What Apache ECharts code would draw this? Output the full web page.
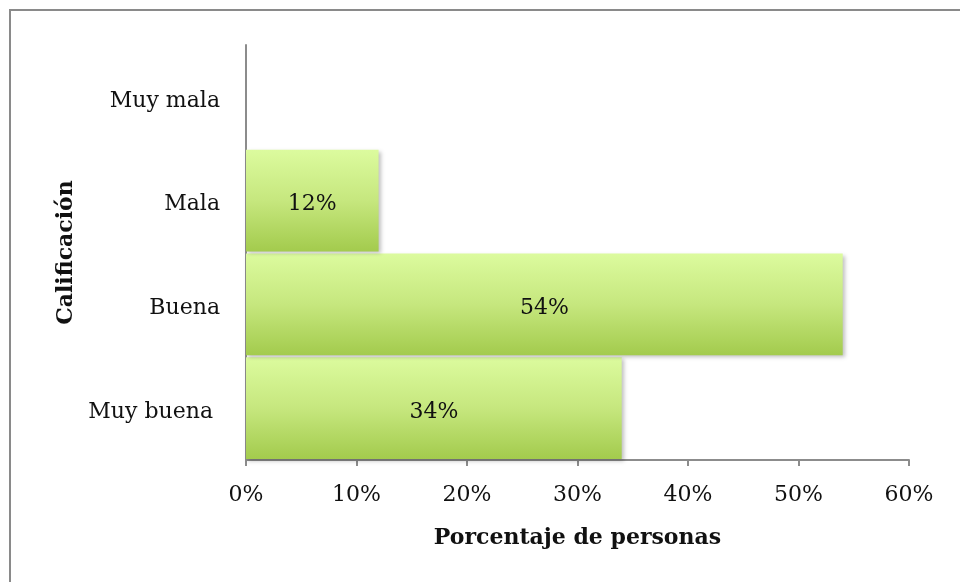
<!DOCTYPE html>
<html>
<head>
<meta charset="utf-8">
<script src="https://cdn.jsdelivr.net/npm/echarts@6/dist/echarts.min.js"></script>
<style>
  html, body { margin: 0; padding: 0; background: #fff; }
  #frame { position: absolute; left: 9px; top: 9px; width: 960px; height: 580px; border: 2px solid #8a8a8a; box-sizing: border-box; }
  #chart { position: absolute; left: 0; top: 0; width: 960px; height: 582px; }
</style>
</head>
<body>
<div id="frame"></div>
<div id="chart"></div>
<script>
// Ratings, listed bottom to top
const categories = ['Muy buena ', 'Buena', 'Mala', 'Muy mala'];
const percentValues = [34, 54, 12, null];
const tickLabels = ['0%', '10%', '20%', '30%', '40%', '50%', '60%'];

const serif = '"DejaVu Serif", "Liberation Serif", serif';

const chart = echarts.init(document.getElementById('chart'), null, { renderer: 'canvas' });
chart.setOption({
  animation: false,
  grid: { left: 246, right: 51, top: 45, bottom: 122 },
  xAxis: {
    type: 'value',
    min: 0, max: 60, interval: 10,
    name: 'Porcentaje de personas',
    nameLocation: 'middle',
    nameGap: 67,
    nameTextStyle: { fontFamily: serif, fontWeight: 'bold', fontSize: 22, color: '#111' },
    axisLine: { show: true, lineStyle: { color: '#8c8c8c', width: 2 } },
    axisTick: { show: true, length: 6, lineStyle: { color: '#8c8c8c', width: 2 } },
    splitLine: { show: false },
    axisLabel: {
      fontFamily: serif, fontSize: 22, color: '#111', margin: 24,
      formatter: v => tickLabels[Math.round(v / 10)]
    }
  },
  yAxis: {
    type: 'category',
    data: categories,
    name: 'Calificación',
    nameLocation: 'middle',
    nameGap: 167,
    nameRotate: 90,
    nameTextStyle: { fontFamily: serif, fontWeight: 'bold', fontSize: 22, color: '#111' },
    axisLine: { show: true, lineStyle: { color: '#8c8c8c', width: 2 } },
    axisTick: { show: false },
    axisLabel: {
      margin: 26,
      formatter: v => '{c|' + v + '}',
      rich: { c: { fontFamily: serif, fontSize: 22, color: '#111', padding: [8, 0, 0, 0] } }
    }
  },
  series: [{
    type: 'bar',
    data: percentValues,
    barCategoryGap: '2%',
    itemStyle: {
      color: new echarts.graphic.LinearGradient(0, 0, 0, 1, [
        { offset: 0, color: '#dcfb9e' },
        { offset: 0.5, color: '#c6e77e' },
        { offset: 1, color: '#a3cb4d' }
      ]),
      shadowColor: 'rgba(0,0,0,0.25)',
      shadowBlur: 4,
      shadowOffsetX: 2,
      shadowOffsetY: 2
    },
    label: {
      show: true,
      position: 'inside',
      offset: [0, 4],
      fontFamily: serif,
      fontSize: 22,
      color: '#111',
      formatter: p => p.value == null ? '' : p.value + '%'
    }
  }]
});
</script>
</body>
</html>
